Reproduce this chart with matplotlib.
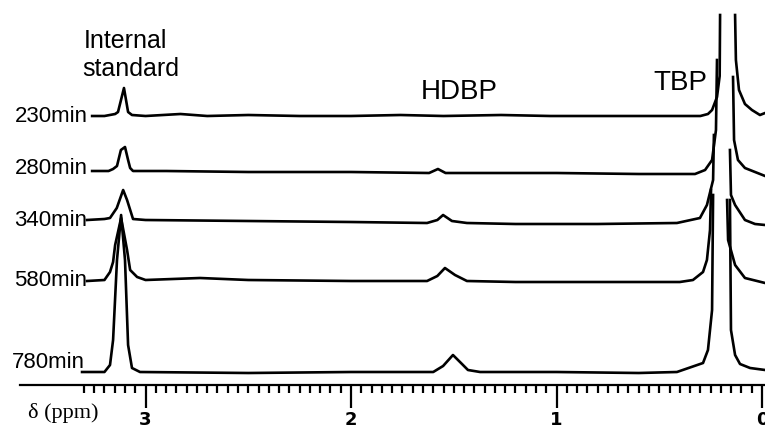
import numpy as np
import matplotlib.pyplot as plt
from matplotlib.ticker import FixedLocator

nan = np.nan

# 1H NMR traces, chemical shift (ppm) and intensity above each baseline
# (nan = clipped top of the off-scale TBP peak)
ppm_230 = [3.26, 3.20, 3.148, 3.134, 3.105, 3.085, 3.066, 3.00, 2.83, 2.70, 2.50, 2.25, 2.00,
           1.76, 1.55, 1.27, 1.03, 0.79, 0.55, 0.40, 0.30, 0.263, 0.243, 0.219, 0.206, 0.204,
           nan, 0.131, 0.127, 0.112, 0.083, 0.049, 0.010, -0.015]
int_230 = [0, 0, 2, 4, 28, 4, 1, 0, 2, 0, 1, 0, 0,
           1, 0, 1, 0, 0, 0, 0, 0, 2, 6, 19, 40, 101,
           nan, 101, 56, 26, 12, 6, 1, 3]

ppm_280 = [3.26, 3.18, 3.158, 3.139, 3.120, 3.100, 3.085, 3.075, 3.061, 2.90, 2.50, 2.00,
           1.62, 1.577, 1.54, 1.30, 1.00, 0.60, 0.40, 0.326, 0.277, 0.243, 0.224, 0.219,
           nan, 0.141, 0.136, 0.117, 0.083, 0.034, -0.015]
int_280 = [1, 1, 3, 6, 22, 25, 12, 4, 1, 1, 0, 0,
           -1, 3, -1, -1, -1, -2, -2, -2, 2, 12, 42, 112,
           nan, 95, 32, 12, 4, 0, -4]

ppm_340 = [3.285, 3.20, 3.173, 3.14, 3.109, 3.09, 3.061, 3.00, 2.50, 2.00,
           1.63, 1.58, 1.552, 1.509, 1.436, 1.20, 0.80, 0.414, 0.302, 0.268, 0.238, 0.234,
           nan, 0.156, 0.151, 0.131, 0.083, 0.034, -0.015]
int_340 = [2, 3, 4, 14, 32, 22, 3, 2, 1, 0,
           -1, 2, 7, 1, -1, -2, -2, -1, 4, 17, 42, 87,
           nan, 72, 27, 17, 2, -2, -3]

ppm_580 = [3.285, 3.20, 3.173, 3.158, 3.148, 3.119, 3.090, 3.075, 3.041, 3.00, 2.735, 2.50, 2.00,
           1.63, 1.58, 1.543, 1.494, 1.436, 1.20, 0.80, 0.40, 0.336, 0.287, 0.268, 0.253, 0.248,
           nan, 0.170, 0.165, 0.131, 0.083, -0.015]
int_580 = [0, 1, 9, 19, 36, 63, 31, 11, 4, 1, 3, 1, 0,
           0, 5, 13, 6, 0, -1, -1, -1, 1, 9, 21, 51, 91,
           nan, 81, 41, 16, 3, -2]

ppm_780 = [3.309, 3.20, 3.173, 3.158, 3.139, 3.119, 3.100, 3.085, 3.066, 3.027, 2.50, 2.00,
           1.60, 1.552, 1.504, 1.460, 1.431, 1.372, 1.00, 0.60, 0.414, 0.287, 0.263, 0.243, 0.238,
           nan, 0.156, 0.151, 0.131, 0.107, 0.058, -0.015]
int_780 = [0, 0, 7, 32, 112, 157, 112, 27, 4, 0, -1, 0,
           0, 6, 17, 8, 2, 0, 0, -1, 0, 9, 22, 62, 177,
           nan, 172, 42, 17, 8, 4, 2]

times = ['230min', '280min', '340min', '580min', '780min']
traces = [(ppm_230, int_230), (ppm_280, int_280), (ppm_340, int_340),
          (ppm_580, int_580), (ppm_780, int_780)]

# stacking
offsets = [269, 213, 163, 104, 13]
label_y = [269, 217, 165, 105, 22]
label_x = [3.28, 3.28, 3.285, 3.285, 3.294]

fig = plt.figure(figsize=(7.65, 4.29), dpi=100)
ax = fig.add_axes([20 / 765, 44 / 429, 745 / 765, 385 / 429])

for (x, y), off in zip(traces, offsets):
    ax.plot(x, np.array(y) + off, color='black', lw=1.9)

for name, lx, ly in zip(times, label_x, label_y):
    ax.text(lx, ly, name, ha='right', va='center', fontsize=16, family='Liberation Sans')

ax.text(3.10, 337, 'Internal', ha='center', va='baseline', fontsize=18, family='Liberation Sans')
ax.text(3.07, 309, 'standard', ha='center', va='baseline', fontsize=18, family='Liberation Sans')
ax.text(1.474, 286, 'HDBP', ha='center', va='baseline', fontsize=20, family='Liberation Sans')
ax.text(0.399, 295, 'TBP', ha='center', va='baseline', fontsize=20, family='Liberation Sans')
ax.text(3.40, -28, 'δ (ppm)', ha='center', va='center', fontsize=16,
        family=['Liberation Serif', 'DejaVu Serif'])

ax.set_xlim(3.611, -0.0146)
ax.set_ylim(0, 385)

ax.set_xticks([3, 2, 1, 0])
ax.set_xticklabels(['3', '2', '1', '0'], fontweight='bold', fontsize=13)
minor = [round(v, 2) for v in np.arange(0.05, 3.31, 0.05) if abs(v - round(v)) > 0.01]
ax.xaxis.set_minor_locator(FixedLocator(minor))
ax.tick_params(which='major', length=16.5, width=1.6, direction='out', pad=2)
ax.tick_params(which='minor', length=6, width=1.6, direction='out')

ax.set_yticks([])
for s in ['left', 'top', 'right']:
    ax.spines[s].set_visible(False)
ax.spines['bottom'].set_linewidth(1.6)

plt.savefig('out.png', dpi=100)
